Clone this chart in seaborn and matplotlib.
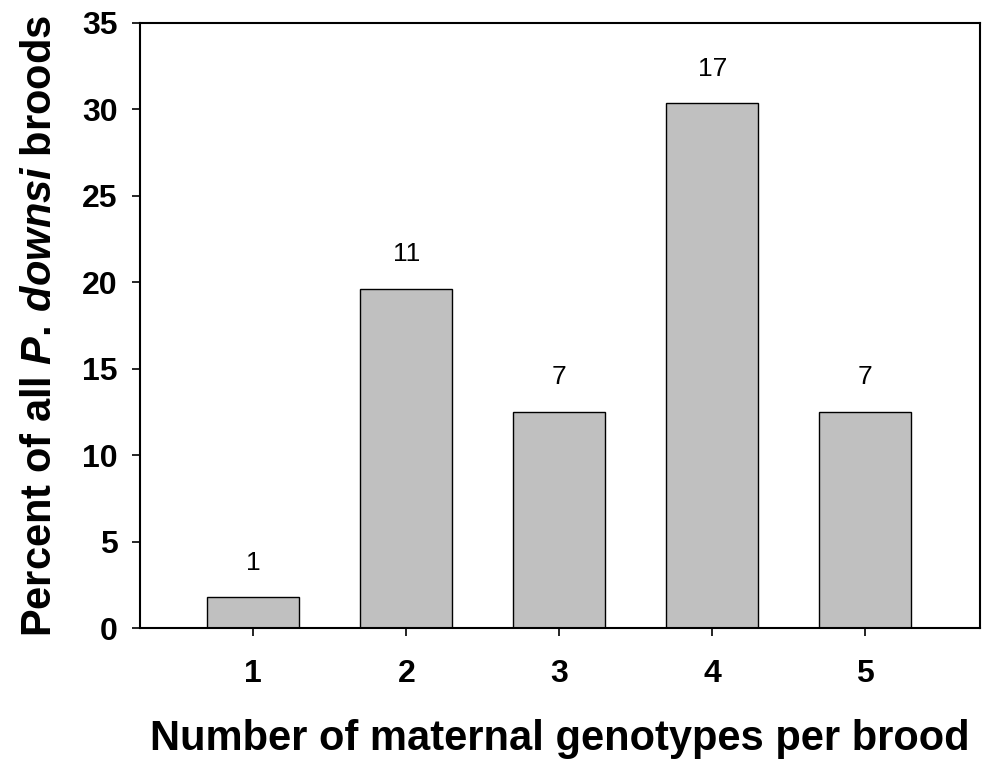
import matplotlib
matplotlib.use("Agg")
import matplotlib.pyplot as plt
import seaborn as sns
import pandas as pd

categories = ["1", "2", "3", "4", "5"]
percents = [1.79, 19.64, 12.5, 30.36, 12.5]
counts = ["1", "11", "7", "17", "7"]

sns.set_style("ticks")
plt.rcParams['font.family'] = ['Liberation Sans', 'DejaVu Sans']
plt.rcParams['mathtext.fontset'] = 'custom'
plt.rcParams['mathtext.it'] = 'Liberation Sans:bold:italic'
plt.rcParams['mathtext.rm'] = 'Liberation Sans:bold'
plt.rcParams['text.color'] = 'black'
plt.rcParams['axes.labelcolor'] = 'black'
plt.rcParams['xtick.color'] = 'black'
plt.rcParams['ytick.color'] = 'black'

df = pd.DataFrame({"cat": categories, "pct": percents})

fig = plt.figure(figsize=(9.84, 7.65), dpi=100)
ax = fig.add_axes([0.1423, 0.179, 0.8537, 0.791])
sns.barplot(data=df, x="cat", y="pct", color="#c0c0c0", width=0.6,
            edgecolor="black", linewidth=1.0, saturation=1, ax=ax)

for i, (v, c) in enumerate(zip(percents, counts)):
    ax.text(i, v + 1.3, c, ha="center", va="bottom", fontsize=19, color="black")

ax.set_xlim(-0.74, 4.75)
ax.set_ylim(0, 35)
ax.set_yticks(range(0, 36, 5))
for s in ax.spines.values():
    s.set_visible(True)
    s.set_linewidth(1.5)
    s.set_color("black")
ax.tick_params(axis="both", direction="out", length=6, width=1.2, colors="black")
ax.tick_params(axis="both", labelsize=23)
for lab in ax.get_xticklabels() + ax.get_yticklabels():
    lab.set_fontweight("bold")
ax.tick_params(axis="x", pad=16)
ax.tick_params(axis="y", pad=10)

ax.set_xlabel("Number of maternal genotypes per brood", fontsize=30,
              fontweight="bold", labelpad=22)
ax.set_ylabel(r"Percent of all $\mathit{P.\,downsi}$ broods", fontsize=30,
              fontweight="bold", labelpad=16)

fig.savefig("out.png", dpi=100)
